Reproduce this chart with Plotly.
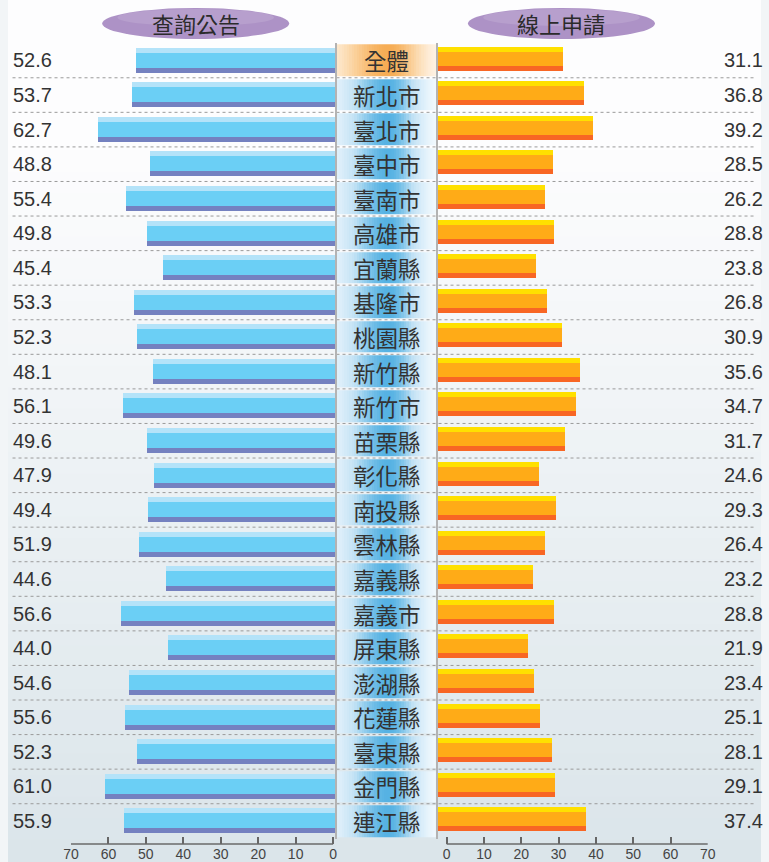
import plotly.graph_objects as go
import math

W, H = 769, 862

categories = ["全體", "新北市", "臺北市", "臺中市", "臺南市", "高雄市", "宜蘭縣", "基隆市",
              "桃園縣", "新竹縣", "新竹市", "苗栗縣", "彰化縣", "南投縣", "雲林縣", "嘉義縣",
              "嘉義市", "屏東縣", "澎湖縣", "花蓮縣", "臺東縣", "金門縣", "連江縣"]
query_notice = [52.6, 53.7, 62.7, 48.8, 55.4, 49.8, 45.4, 53.3, 52.3, 48.1, 56.1, 49.6,
                47.9, 49.4, 51.9, 44.6, 56.6, 44.0, 54.6, 55.6, 52.3, 61.0, 55.9]
online_apply = [31.1, 36.8, 39.2, 28.5, 26.2, 28.8, 23.8, 26.8, 30.9, 35.6, 34.7, 31.7,
                24.6, 29.3, 26.4, 23.2, 28.8, 21.9, 23.4, 25.1, 28.1, 29.1, 37.4]
header_left = "查詢公告"
header_right = "線上申請"
tick_vals = [0, 10, 20, 30, 40, 50, 60, 70]

n = len(categories)
rows = list(range(n))

def px_x(p):
    return p / W

def px_y(p):
    return 1 - p / H

PITCH = 34.57
def u(pxv):
    return pxv / PITCH

fig = go.Figure()

# ---- left bars (three stripes) ----
LB = 1.0
RB = 2.3
left_cols = [("#b4e3f9", -10, 5), ("#6bcff5", 0, 15), ("#7481c0", 10, 5)]
for col, off, h in left_cols:
    fig.add_trace(go.Bar(
        x=[v + LB for v in query_notice], base=-LB,
        y=[r + u(off) for r in rows], width=u(h), orientation="h",
        marker=dict(color=col, line=dict(width=0)),
        xaxis="x", yaxis="y", hoverinfo="skip", showlegend=False))

right_cols = [("#ffe000", -11, 5), ("#ffab17", -1.5, 14), ("#f86624", 8, 5)]
for col, off, h in right_cols:
    fig.add_trace(go.Bar(
        x=[v + RB for v in online_apply], base=-RB,
        y=[r + u(off) for r in rows], width=u(h), orientation="h",
        marker=dict(color=col, line=dict(width=0)),
        xaxis="x2", yaxis="y", hoverinfo="skip", showlegend=False))

# ---- centre label column gradient (heatmap) ----
NC = 40
xs = [(k + 0.5) / NC for k in range(NC)]
def prof(t):
    c = 0.52
    s = 0.42 if t < c else 0.30
    return math.exp(-((t - c) / s) ** 2)
z = []
for r in rows:
    if r == 0:
        z.append([2 + prof(t) for t in xs])
    else:
        z.append([prof(t) for t in xs])
fig.add_trace(go.Heatmap(
    x=xs, y=rows, z=z, zmin=0, zmax=3, ygap=3, showscale=False,
    colorscale=[[0, "#f8fcff"], [0.17, "#c2e2f5"], [0.333, "#56b2e3"],
                [0.667, "#fff8ef"], [0.83, "#fbd3a0"], [1, "#f6ad55"]],
    xaxis="x3", yaxis="y3", hoverinfo="skip"))

# ---- layout ----
y_dom = [px_y(844), px_y(43.2)]
axis_common = dict(tickvals=tick_vals, ticks="inside", ticklen=7, tickwidth=1.5,
                   tickcolor="#666", showgrid=False, zeroline=False, showline=False,
                   tickfont=dict(family="Liberation Sans", size=14, color="#444"),
                   fixedrange=True)
fig.update_layout(
    width=W, height=H, margin=dict(l=0, r=0, t=0, b=0),
    paper_bgcolor="#f2f5f7", plot_bgcolor="rgba(0,0,0,0)",
    barmode="overlay", bargap=0,
    xaxis=dict(domain=[px_x(64.3), px_x(335)], range=[70, -(335 - 332) / 3.82], anchor="y", **axis_common),
    xaxis2=dict(domain=[px_x(437), px_x(714.7)], range=[-(448 - 437) / 3.81, 70], anchor="y", **axis_common),
    yaxis=dict(domain=y_dom, range=[22 + u(844 - 821), -0.5], visible=False, fixedrange=True),
    xaxis3=dict(domain=[px_x(336), px_x(437)], range=[0, 1], visible=False, anchor="y3"),
    yaxis3=dict(domain=[px_y(839), px_y(43.2)], range=[22.5, -0.5], anchor="x3",
                showline=True, mirror=True, linecolor="#b3b3b3", linewidth=2,
                showticklabels=False, ticks="", showgrid=False, zeroline=False),
)

shapes = []
NB = 40
top = (253, 253, 254)
bot = (219, 229, 234)
for k in range(NB):
    t = k / (NB - 1)
    t2 = max(0.0, (t - 0.15) / 0.85)
    c = tuple(int(round(top[i] + (bot[i] - top[i]) * t2)) for i in range(3))
    shapes.append(dict(type="rect", xref="paper", yref="paper", x0=0, x1=1,
                       y0=1 - (k + 1) / NB, y1=1 - k / NB + 0.001,
                       fillcolor="rgb(%d,%d,%d)" % c, line=dict(width=0), layer="below"))
for r in rows[:-1]:
    shapes.append(dict(type="line", xref="paper", yref="y", x0=0.006, x1=0.994,
                       y0=r + 0.5, y1=r + 0.5, line=dict(color="#9a9a9a", width=1, dash="dot"),
                       layer="below"))
for xr in ("x", "x2"):
    shapes.append(dict(type="line", xref=xr, yref="paper", x0=0, x1=70,
                       y0=px_y(844), y1=px_y(844), line=dict(color="#6a6a6a", width=1.5)))
for xc in (191.7, 565.2):
    shapes.append(dict(type="circle", xref="paper", yref="paper",
                       x0=px_x(xc - 95.5), x1=px_x(xc + 95.5), y0=px_y(39), y1=px_y(8),
                       fillcolor="#ad92c6", line=dict(width=0), layer="below"))
    shapes.append(dict(type="circle", xref="paper", yref="paper",
                       x0=px_x(xc - 80), x1=px_x(xc + 80), y0=px_y(26), y1=px_y(9),
                       fillcolor="rgba(255,255,255,0.12)", line=dict(width=0), layer="below"))
fig.update_layout(shapes=shapes)

ann = []
for r, cat in enumerate(categories):
    ann.append(dict(x=px_x(387), y=r, xref="paper", yref="y", text=cat, showarrow=False,
                    xanchor="center", yanchor="middle",
                    font=dict(family="Noto Sans CJK TC", size=22.5, color="#333")))
    ann.append(dict(x=px_x(3), y=r, xref="paper", yref="y", text=f"{query_notice[r]:.1f}",
                    showarrow=False, xanchor="left", yanchor="middle",
                    font=dict(family="Liberation Sans", size=20, color="#333")))
    ann.append(dict(x=px_x(773), y=r, xref="paper", yref="y", text=f"{online_apply[r]:.1f}",
                    showarrow=False, xanchor="right", yanchor="middle",
                    font=dict(family="Liberation Sans", size=20, color="#333")))
for xc, txt in ((191.7, header_left), (565.2, header_right)):
    ann.append(dict(x=px_x(xc), y=px_y(23), xref="paper", yref="paper", text=txt,
                    showarrow=False, xanchor="center", yanchor="middle",
                    font=dict(family="Noto Sans CJK TC", size=22, color="#2b2b2b")))
fig.update_layout(annotations=ann)

fig.write_html("out.html", config={"displayModeBar": False},
               post_script="document.body.style.margin='0';document.body.style.overflow='hidden';")
